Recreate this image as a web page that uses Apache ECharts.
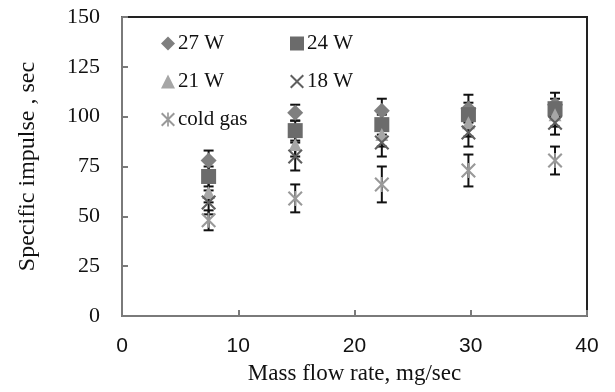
<!DOCTYPE html>
<html><head><meta charset="utf-8">
<script src="https://cdn.jsdelivr.net/npm/echarts@6/dist/echarts.min.js"></script>
<style>html,body{margin:0;padding:0;background:#fff}#c{width:615px;height:392px}</style>
</head><body><div id="c"></div>
<script>
const massFlow = [7.45, 14.9, 22.35, 29.8, 37.25];
const w27 = [78, 102, 103, 104, 106];
const w24 = [70, 93, 96, 101, 104];
const w21 = [62, 86, 91, 97, 101];
const w18 = [57, 80, 87, 92, 97];
const coldGas = [48, 59, 66, 73, 78];
const err27 = [5, 4, 6, 7, 6];
const err24 = [5, 5, 5, 6, 5];
const err21 = [5, 6, 6, 7, 6];
const err18 = [6, 7, 7, 7, 6];
const errCold = [5, 7, 9, 8, 7];
const yTicks = [0, 25, 50, 75, 100, 125, 150];
const xTicks = [0, 10, 20, 30, 40];

const X_PATH = 'path://M0,1L1,0L5,4L9,0L10,1L6,5L10,9L9,10L5,6L1,10L0,9L4,5Z';
const AST_PATH = 'path://M0,1L1,0L5,4L9,0L10,1L6,5L10,9L9,10L5,6L1,10L0,9L4,5ZM4.4,0L5.6,0L5.6,10L4.4,10Z';

const seriesDefs = [
  {name: '27 W', y: w27, e: err27, symbol: 'diamond', size: 16, color: '#7f7f7f'},
  {name: '24 W', y: w24, e: err24, symbol: 'rect', size: 15, color: '#6b6b6b'},
  {name: '21 W', y: w21, e: err21, symbol: 'triangle', size: 13, color: '#a6a6a6'},
  {name: '18 W', y: w18, e: err18, symbol: X_PATH, size: 15, color: '#5f5f5f'},
  {name: 'cold gas', y: coldGas, e: errCold, symbol: AST_PATH, size: 15, color: '#999999'}
];

const series = [];
seriesDefs.forEach(function (d) {
  series.push({
    type: 'custom', silent: true, z: 1,
    data: massFlow.map(function (x, i) { return [x, d.y[i] - d.e[i], d.y[i] + d.e[i]]; }),
    renderItem: function (params, api) {
      const lo = api.coord([api.value(0), api.value(1)]);
      const hi = api.coord([api.value(0), api.value(2)]);
      const hw = 5;
      const st = {stroke: '#111', lineWidth: 2};
      return {type: 'group', children: [
        {type: 'line', shape: {x1: lo[0], y1: lo[1], x2: hi[0], y2: hi[1]}, style: st},
        {type: 'line', shape: {x1: lo[0] - hw, y1: lo[1], x2: lo[0] + hw, y2: lo[1]}, style: st},
        {type: 'line', shape: {x1: hi[0] - hw, y1: hi[1], x2: hi[0] + hw, y2: hi[1]}, style: st}
      ]};
    }
  });
});
seriesDefs.forEach(function (d) {
  series.push({
    name: d.name, type: 'scatter', z: 3,
    symbol: d.symbol, symbolSize: d.size,
    itemStyle: {color: d.color, opacity: 1},
    data: massFlow.map(function (x, i) { return [x, d.y[i]]; })
  });
});

const serif = '"Liberation Serif", "Times New Roman", serif';
const legendText = {fontFamily: serif, fontSize: 21, color: '#111', padding: [0, 0, 0, -2]};
const chart = echarts.init(document.getElementById('c'), null, {renderer: 'canvas'});
chart.setOption({
  animation: false,
  backgroundColor: '#fff',
  grid: {left: 122, right: 28, top: 17, bottom: 76, show: true, borderColor: '#222', borderWidth: 2},
  legend: [
    {orient: 'vertical', left: 156, top: 28, itemGap: 17, itemWidth: 14, itemHeight: 14,
     data: ['27 W', '21 W', 'cold gas'], textStyle: legendText, selectedMode: false},
    {orient: 'vertical', left: 285, top: 28, itemGap: 17, itemWidth: 14, itemHeight: 14,
     data: ['24 W', '18 W'], textStyle: legendText, selectedMode: false}
  ],
  xAxis: {
    type: 'value', min: xTicks[0], max: xTicks[xTicks.length - 1], interval: 10,
    name: 'Mass flow rate, mg/sec', nameLocation: 'middle', nameGap: 46,
    nameTextStyle: {fontFamily: serif, fontSize: 23, color: '#111'},
    axisLine: {lineStyle: {color: '#7a7a7a', width: 2}},
    axisTick: {inside: true, length: 6, lineStyle: {color: '#7a7a7a', width: 2}},
    axisLabel: {fontFamily: '"Liberation Sans", Arial, sans-serif', fontSize: 21, color: '#111', margin: 20},
    splitLine: {show: false}
  },
  yAxis: {
    type: 'value', min: yTicks[0], max: yTicks[yTicks.length - 1], interval: 25,
    name: 'Specific impulse , sec', nameLocation: 'middle', nameGap: 82,
    nameTextStyle: {fontFamily: serif, fontSize: 24, color: '#111'},
    axisLine: {lineStyle: {color: '#7a7a7a', width: 2}},
    axisTick: {inside: true, length: 6, lineStyle: {color: '#7a7a7a', width: 2}},
    axisLabel: {fontFamily: serif, fontSize: 22, color: '#111', margin: 22},
    splitLine: {show: false}
  },
  series: series
});
</script></body></html>
